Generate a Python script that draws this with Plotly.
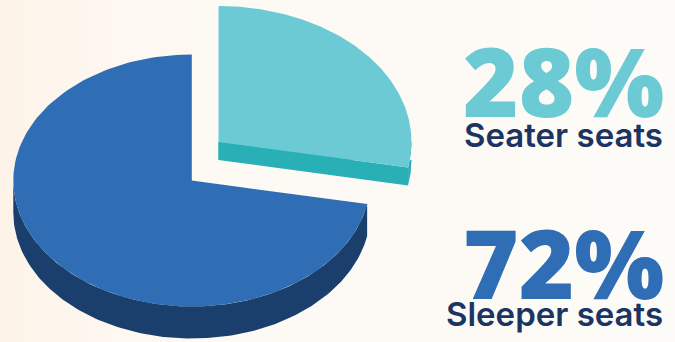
import numpy as np
import plotly.graph_objects as go

# Share of seats by type
categories = ["Seater seats", "Sleeper seats"]
shares = [28, 72]

# Colours per category: top face, side wall, headline number
top_colors = ["#6CCAD4", "#2F6DB5"]
wall_colors = ["#29AFB6", "#1A3F6D"]
label_color = "#1B3563"

W, H = 675, 342

# Drawn pie geometry in page pixels: centre x, centre y, radius x, radius y, thickness
seater_geom = (218.5, 142, 193, 136, 18)
sleeper_geom = (191.8, 180.5, 178.5, 126, 32)


def rim(geom, a_from, a_to, drop=0.0, n=160):
    """Points on the elliptical rim; angles run clockwise from 12 o'clock, in degrees."""
    cx, cy, rx, ry, _ = geom
    a = np.radians(np.linspace(a_from, a_to, n))
    return cx + rx * np.sin(a), cy - ry * np.cos(a) + drop


def add_poly(fig, x, y, color):
    fig.add_trace(go.Scatter(x=x, y=y, mode="lines", fill="toself", fillcolor=color,
                             line=dict(width=0), hoverinfo="skip", showlegend=False))


seater_sweep = shares[0] / sum(shares) * 360

fig = go.Figure()

# Soft cream backdrop, warmer on the left
fig.add_trace(go.Heatmap(
    x=[0, 120, 300, 675], y=[0, H], z=[[0, 0.6, 0.85, 1], [0, 0.6, 0.85, 1]],
    colorscale=[[0, "#FDF3E8"], [1, "#FDFBF7"]], showscale=False,
    zsmooth="best", hoverinfo="skip"))

# Sleeper slice: the wall runs round the front from the slice edge to 9 o'clock
g = sleeper_geom
d = g[4]
wx, wy = rim(g, seater_sweep, 270)
add_poly(fig, np.r_[wx, wx[::-1]], np.r_[wy, wy[::-1] + d], wall_colors[1])
fx, fy = rim(g, seater_sweep, 360)
add_poly(fig, np.r_[g[0], fx, g[0]], np.r_[g[1], fy, g[1]], top_colors[1])

# Seater slice: short outer wall plus the exposed cut face along its lower edge
g = seater_geom
d = g[4]
wx, wy = rim(g, 90, seater_sweep)
add_poly(fig, np.r_[g[0], wx, wx[::-1], g[0]],
         np.r_[g[1], wy, wy[::-1] + d, g[1] + d], wall_colors[0])
ex, ey = rim(g, seater_sweep, seater_sweep, n=1)
add_poly(fig, [g[0], ex[0], ex[0], g[0], g[0]],
         [g[1], ey[0], ey[0] + d, g[1] + d, g[1]], wall_colors[0])
fx, fy = rim(g, 0, seater_sweep)
add_poly(fig, np.r_[g[0], fx, g[0]], np.r_[g[1], fy, g[1]], top_colors[0])

# Headline percentages with category names beneath them
for name, share, color, num_y, cat_y in zip(categories, shares, top_colors, [80, 262], [135, 314]):
    fig.add_annotation(x=666, y=num_y, text=f"{share}%", showarrow=False, xanchor="right",
                       yanchor="middle", font=dict(family="Open Sans", size=95, color=color, weight=800))
    fig.add_annotation(x=665, y=cat_y, text=name, showarrow=False, xanchor="right",
                       yanchor="middle", font=dict(family="Inter", size=33, color=label_color, weight=600))

fig.update_layout(
    width=W, height=H, margin=dict(l=0, r=0, t=0, b=0), showlegend=False,
    paper_bgcolor="#FDFBF7", plot_bgcolor="#FDFBF7",
    xaxis=dict(range=[0, W], visible=False, fixedrange=True),
    yaxis=dict(range=[H, 0], visible=False, fixedrange=True),
)

fig.write_html("out.html", config=dict(displayModeBar=False))
